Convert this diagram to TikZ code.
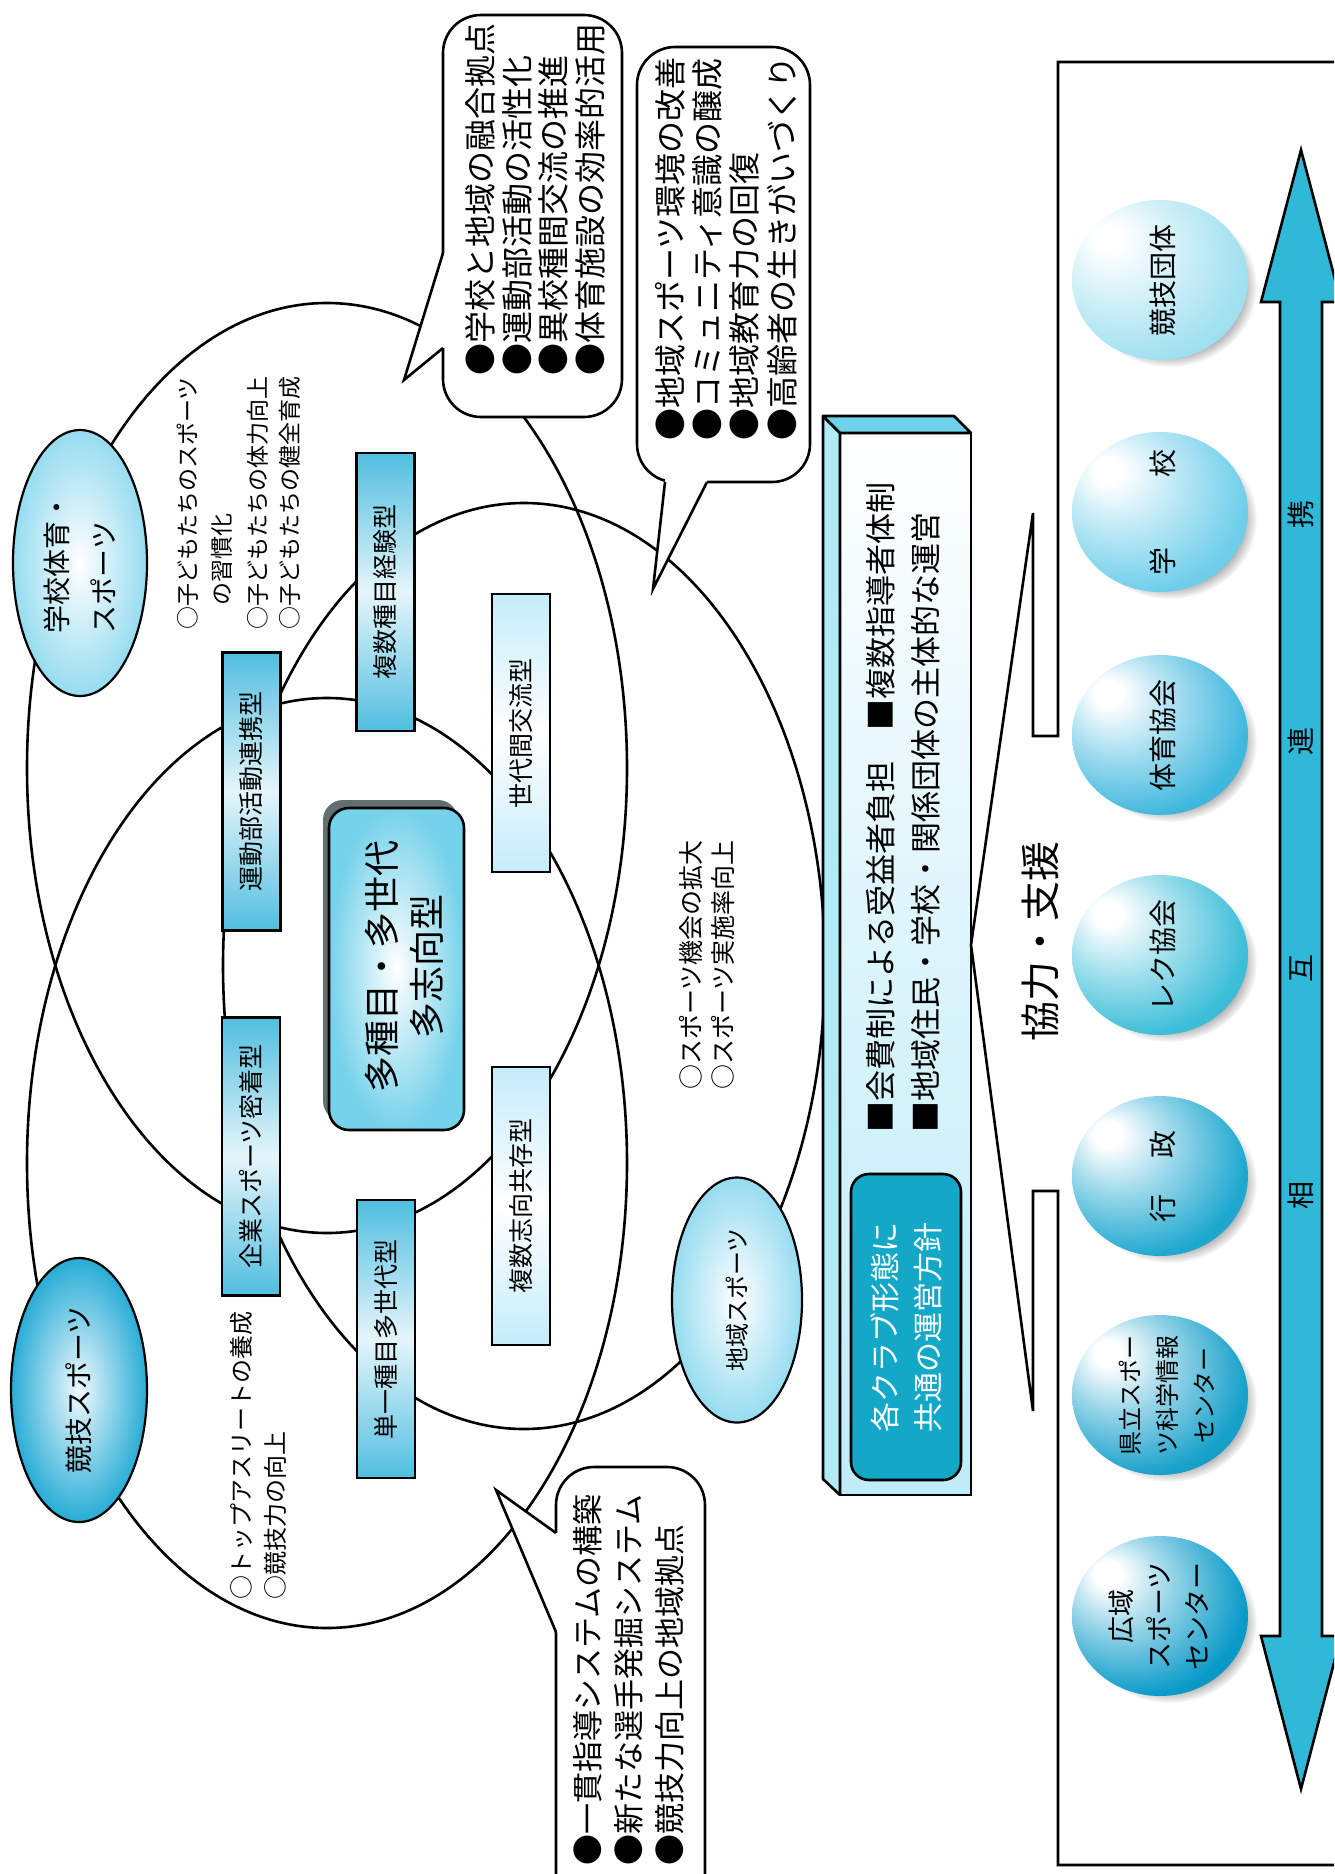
\documentclass[tikz,border=0pt]{standalone}
\usepackage{fontspec}
\setmainfont{Noto Sans CJK JP}
\usepackage{graphicx}
\usetikzlibrary{shapes.geometric,shadows,fadings}

\definecolor{cdark}{RGB}{80,190,224}
\definecolor{clight}{RGB}{196,236,250}
\definecolor{cellip}{RGB}{150,220,240}
\definecolor{ckyogi}{RGB}{40,172,214}
\definecolor{ccenter}{RGB}{118,210,234}
\definecolor{cshadow}{RGB}{96,112,112}
\definecolor{ctop}{RGB}{110,210,236}
\definecolor{cside}{RGB}{176,234,244}
\definecolor{cfront}{RGB}{190,236,248}
\definecolor{cteal}{RGB}{20,168,200}
\definecolor{carrow}{RGB}{48,184,216}
\definecolor{bA}{RGB}{160,224,240}
\definecolor{bB}{RGB}{110,206,234}
\definecolor{bC}{RGB}{64,184,222}
\definecolor{bD}{RGB}{60,190,216}
\definecolor{bE}{RGB}{30,168,208}
\definecolor{bF}{RGB}{22,160,202}
\definecolor{bG}{RGB}{8,154,200}
\colorlet{ballc}{cyan}
\pgfdeclareradialshading[ballc]{myball}{\pgfqpoint{-16bp}{14bp}}{color(0bp)=(white); color(4bp)=(white); color(16bp)=(ballc!45!white); color(32bp)=(ballc); color(60bp)=(ballc!92!black)}

\tikzset{
 big/.style={line width=2.6pt},
 lbl/.style={ellipse, draw, line width=2.2pt, inner sep=0pt},
 tbox/.style={draw, line width=2.6pt, inner sep=0pt, minimum width=58pt, minimum height=278pt, font=\fontsize{25}{30}\selectfont},
 dbox/.style={tbox, top color=cdark, bottom color=cdark, middle color=white!85!cdark},
 lbox/.style={tbox, top color=clight, bottom color=clight, middle color=white},
 vt/.style={rotate=90, anchor=west, inner sep=0pt},
 callout/.style={draw, fill=white, line width=2.6pt, rounded corners=38pt},
 bcol/.code={\colorlet{ballc}{#1}},
 ballnode/.style={ellipse, shading=myball, minimum width=176pt, minimum height=160pt, inner sep=0pt,
   circular drop shadow={shadow xshift=9pt, shadow yshift=-7pt, shadow scale=1.0, opacity=0.6}},
 btext/.style={rotate=90, align=center, inner sep=0pt, font=\fontsize{28}{34}\selectfont},
 atext/.style={rotate=90, inner sep=0pt, font=\fontsize{28}{32}\selectfont},
 f23/.style={font=\fontsize{23}{28}\selectfont},
 f24/.style={font=\fontsize{24}{29}\selectfont},
 f25/.style={font=\fontsize{25}{30}\selectfont},
 f28/.style={font=\fontsize{28}{47}\selectfont},
 f31/.style={font=\fontsize{31}{36}\selectfont},
 f32/.style={font=\fontsize{32}{37}\selectfont},
}

\begin{document}
\begin{tikzpicture}[x=1pt,y=-1pt]
\useasboundingbox (0,0) rectangle (1334,1874);
\clip (0,0) rectangle (1334,1874);
\fill[white] (0,0) rectangle (1334,1874);

% three large ellipses
\draw[big] (327,768) ellipse [x radius=300pt, y radius=465pt];
\draw[big] (327,1163) ellipse [x radius=300pt, y radius=465pt];
\draw[big] (524,966) ellipse [x radius=301pt, y radius=463pt];

% label ellipses
\node[lbl, minimum width=134pt, minimum height=266pt, inner color=white, outer color=cellip] (school) at (80,563) {};
\node[rotate=90, align=left, f28] (schoolt) at (school) {学校体育・\\スポーツ};
\node[lbl, minimum width=136pt, minimum height=264pt, inner color=white!85!cellip, outer color=ckyogi] (kyogi) at (79,1390) {};
\node[rotate=90, f28] (kyogit) at (kyogi) {競技スポーツ};
\node[lbl, minimum width=130pt, minimum height=245pt, inner color=white, outer color=cellip] (chiiki) at (737,1300) {};
\node[rotate=90, f24] (chiikit) at (chiiki) {地域スポーツ};

% type boxes
\node[dbox] (undo) at (251.5,791.5) {\rotatebox{90}{運動部活動連携型}};
\node[dbox] (fukusu) at (385.5,592) {\rotatebox{90}{複数種目経験型}};
\node[lbox] (sedai) at (521,733) {\rotatebox{90}{世代間交流型}};
\node[lbox] (shiko) at (521,1206) {\rotatebox{90}{複数志向共存型}};
\node[dbox] (tanitsu) at (386,1339) {\rotatebox{90}{単一種目多世代型}};
\node[dbox] (kigyo) at (251,1156.5) {\rotatebox{90}{企業スポーツ密着型}};

% center box
\fill[cshadow, rounded corners=20pt] (323,800) rectangle (458,1121);
\node[draw, line width=2.6pt, rounded corners=20pt, minimum width=135pt, minimum height=322pt, inner color=white, outer color=ccenter] (center) at (396.5,969) {};
\node[rotate=90, align=center, font=\fontsize{36}{45}\selectfont] (centert) at (404,966) {多種目・多世代\\多志向型};

% annotations
\node[vt, f23] (a1) at (188,630) {○子どもたちのスポーツ};
\node[vt, f23] (a2) at (222,606) {の習慣化};
\node[vt, f23] (a3) at (258,630) {○子どもたちの体力向上};
\node[vt, f23] (a4) at (290,630) {○子どもたちの健全育成};
\node[vt, f24] (k1) at (241,1600) {○トップアスリートの養成};
\node[vt, f24] (k2) at (275,1600) {○競技力の向上};
\node[vt, f25] (c1) at (691,1090) {○スポーツ機会の拡大};
\node[vt, f25] (c2) at (723,1090) {○スポーツ実施率向上};

% callout A
\draw[callout] (443,15) rectangle (622,417);
\fill[white] (404,380) -- (443,253) -- (452,253) -- (452,348) -- (443,348) -- cycle;
\draw[big] (443,253) -- (404,380) -- (443,348);
\node[vt, f32] (ca1) at (480,376) {●学校と地域の融合拠点};
\node[vt, f32] (ca2) at (517,376) {●運動部活動の活性化};
\node[vt, f32] (ca3) at (553,376) {●異校種間交流の推進};
\node[vt, f32] (ca4) at (590,376) {●体育施設の効率的活用};

% callout B
\draw[callout] (637,47) rectangle (810,482);
\fill[white] (653,589) -- (665,482) -- (665,473) -- (707,473) -- (707,482) -- cycle;
\draw[big] (665,482) -- (653,589) -- (707,482);
\node[vt, f32] (cb1) at (670,441) {●地域スポーツ環境の改善};
\node[vt, f32] (cb2) at (707,441) {●コミュニティ意識の醸成};
\node[vt, f32] (cb3) at (744,441) {●地域教育力の回復};
\node[vt, f32] (cb4) at (782,441) {●高齢者の生きがいづくり};

% callout C
\draw[callout] (556,1467) rectangle (705,1920);
\fill[white] (496,1490) -- (556,1533) -- (565,1533) -- (565,1632) -- (556,1632) -- cycle;
\draw[big] (556,1533) -- (496,1490) -- (556,1632);
\node[vt, f31] (cc1) at (588,1866) {●一貫指導システムの構築};
\node[vt, f31] (cc2) at (629,1866) {●新たな選手発掘システム};
\node[vt, f31] (cc3) at (670,1866) {●競技力向上の地域拠点};

% 3D box
\node[draw, line width=2.6pt, minimum width=131pt, minimum height=1062pt, inner sep=0pt,
  top color=white, bottom color=cfront, middle color=cfront!55!white] (front) at (905.5,964) {};
\draw[big, fill=cside, line join=round] (840,433) -- (823,416) -- (823,1479) -- (840,1495) -- cycle;
\draw[big, fill=ctop, line join=round] (840,433) -- (823,416) -- (954,416) -- (971,433) -- cycle;
\node[vt, f31] (p1) at (881,1133) {■会費制による受益者負担　■複数指導者体制};
\node[vt, f31] (p2) at (926,1133) {■地域住民・学校・関係団体の主体的な運営};
\node[draw, fill=cteal, rounded corners=18pt, line width=2.6pt, minimum width=110pt, minimum height=306pt, inner sep=0pt] (teal) at (906,1327) {};
\node[rotate=90, align=center, text=white, font=\fontsize{30}{43}\selectfont] (tealt) at (teal) {各クラブ形態に\\共通の運営方針};

% frame with pointer
\draw[big] (1350,62) -- (1058,62) -- (1058,736) -- (1033,736) -- (1033,513) -- (971,945) -- (1033,1411) -- (1033,1191) -- (1058,1191) -- (1058,1865) -- (1350,1865);
\node[rotate=90, font=\fontsize{40}{46}\selectfont] (kyoryoku) at (1040,941) {協力・支援};

% double arrow
\draw[big, fill=carrow] (1301,150) -- (1341,302) -- (1322,302) -- (1322,1636) -- (1341,1636) -- (1301,1789) -- (1261,1636) -- (1280,1636) -- (1280,302) -- (1261,302) -- cycle;
\node[atext] (s1) at (1301,1195) {相};
\node[atext] (s2) at (1301,968) {互};
\node[atext] (s3) at (1301,741) {連};
\node[atext] (s4) at (1301,514) {携};

% balls
\node[ballnode, bcol=bA] (b1) at (1160,280) {};
\node[ballnode, bcol=bB] (b2) at (1160,512) {};
\node[ballnode, bcol=bC] (b3) at (1160,735) {};
\node[ballnode, bcol=bD] (b4) at (1160,955) {};
\node[ballnode, bcol=bE] (b5) at (1160,1176) {};
\node[ballnode, bcol=bF] (b6) at (1160,1395) {};
\node[ballnode, bcol=bG] (b7) at (1160,1616) {};
\node[btext] (b1t) at (1163,280) {競技団体};
\node[btext] (b2t) at (1163,512) {学\hspace{70pt}校};
\node[btext] (b3t) at (1163,735) {体育協会};
\node[btext] (b4t) at (1163,955) {レク協会};
\node[btext] (b5t) at (1163,1176) {行\hspace{36pt}政};
\node[btext, font=\fontsize{24}{37}\selectfont] (b6t) at (1167,1395) {県立スポー\\ツ科学情報\\センター};
\node[btext, font=\fontsize{27}{38}\selectfont] (b7t) at (1159,1616) {広域\\スポーツ\\センター};
\end{tikzpicture}
\end{document}
